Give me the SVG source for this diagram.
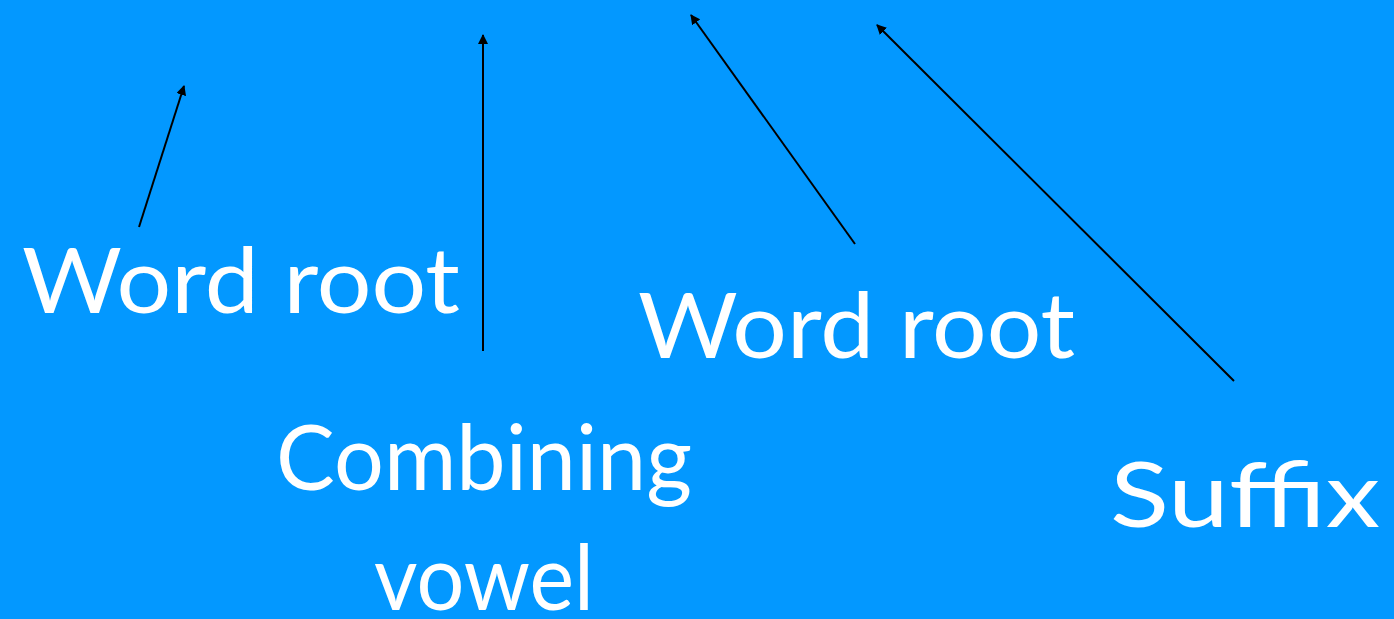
<svg xmlns="http://www.w3.org/2000/svg" width="1394" height="619" viewBox="0 0 1394 619">
<style>
.lbl{font-family:"Comic Sans MS","Lato","Open Sans",sans-serif;font-size:92px;fill:#FFFFFF;}
.conn line{stroke:#000000;stroke-width:2;marker-end:url(#ah);}
</style>
<defs>
<marker id="ah" viewBox="0 0 10 10" refX="9" refY="5" markerWidth="5" markerHeight="5" orient="auto" markerUnits="strokeWidth">
<path d="M0,0 L10,5 L0,10 z" fill="#000000"/>
</marker>
</defs>
<rect width="1394" height="619" fill="#0398FF"/>
<g id="connectors" class="conn">
<line x1="139" y1="227" x2="184" y2="86"/>
<line x1="483" y1="351" x2="483" y2="35"/>
<line x1="855" y1="244" x2="691" y2="15"/>
<line x1="1234" y1="381" x2="877" y2="25"/>
</g>
<g id="word-root-1"><text class="lbl" x="22" y="313" textLength="438" lengthAdjust="spacingAndGlyphs">Word root</text></g>
<g id="combining-vowel"><text class="lbl" x="276" y="490" textLength="416" lengthAdjust="spacingAndGlyphs">Combining</text><text class="lbl" x="374" y="610" textLength="220" lengthAdjust="spacingAndGlyphs">vowel</text></g>
<g id="word-root-2"><text class="lbl" x="638" y="358" textLength="437" lengthAdjust="spacingAndGlyphs">Word root</text></g>
<g id="suffix"><text class="lbl" x="1110" y="527" textLength="270" lengthAdjust="spacingAndGlyphs">Suffix</text></g>
</svg>
